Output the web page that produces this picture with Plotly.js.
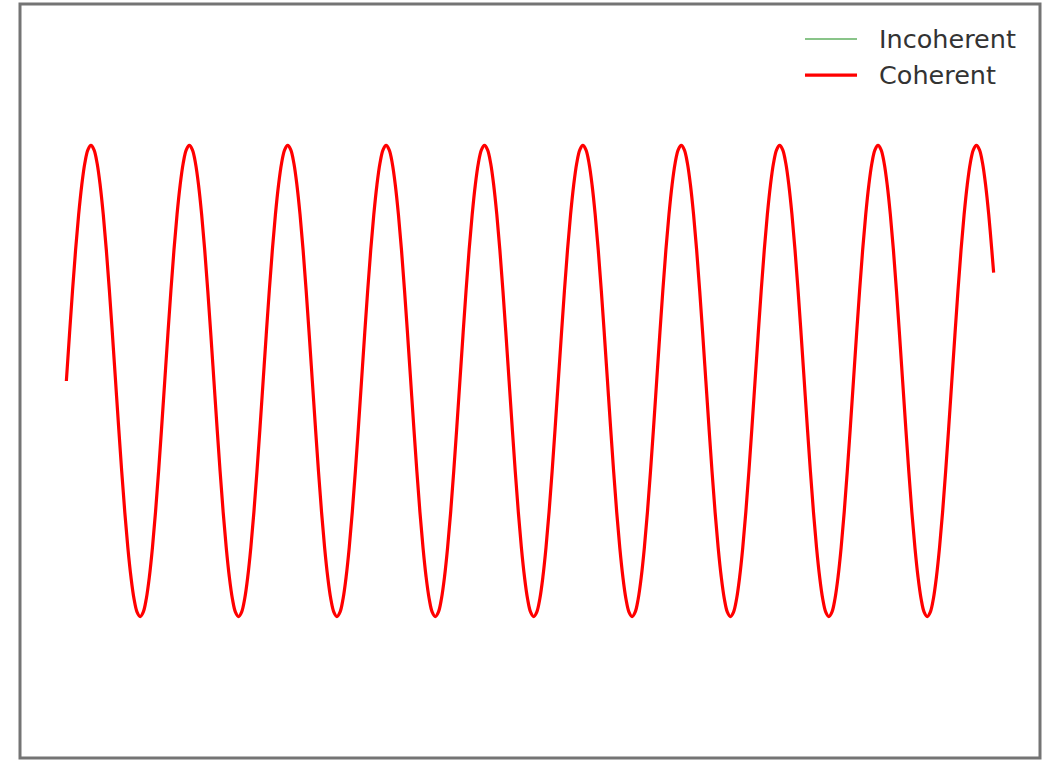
<!DOCTYPE html>
<html>
<head>
<meta charset="utf-8">
<script src="https://cdn.plot.ly/plotly-3.0.1.min.js"></script>
<style>html,body{margin:0;padding:0;background:#fff;}#chart{width:1049px;height:760px;}</style>
</head>
<body>
<div id="chart"></div>
<script>
// Samples; x in 1/32 of an oscillation period
const xCoherent = [
  0, 1, 2, 3, 4, 5, 6, 7, 8, 9, 10, 11, 12, 13, 14, 15, 16, 17, 18, 19, 20, 21, 22, 23, 24, 25, 26, 27, 28, 29, 30, 31,
  32, 33, 34, 35, 36, 37, 38, 39, 40, 41, 42, 43, 44, 45, 46, 47, 48, 49, 50, 51, 52, 53, 54, 55, 56, 57, 58, 59, 60, 61, 62, 63,
  64, 65, 66, 67, 68, 69, 70, 71, 72, 73, 74, 75, 76, 77, 78, 79, 80, 81, 82, 83, 84, 85, 86, 87, 88, 89, 90, 91, 92, 93, 94, 95,
  96, 97, 98, 99, 100, 101, 102, 103, 104, 105, 106, 107, 108, 109, 110, 111, 112, 113, 114, 115, 116, 117, 118, 119, 120, 121, 122, 123, 124, 125, 126, 127,
  128, 129, 130, 131, 132, 133, 134, 135, 136, 137, 138, 139, 140, 141, 142, 143, 144, 145, 146, 147, 148, 149, 150, 151, 152, 153, 154, 155, 156, 157, 158, 159,
  160, 161, 162, 163, 164, 165, 166, 167, 168, 169, 170, 171, 172, 173, 174, 175, 176, 177, 178, 179, 180, 181, 182, 183, 184, 185, 186, 187, 188, 189, 190, 191,
  192, 193, 194, 195, 196, 197, 198, 199, 200, 201, 202, 203, 204, 205, 206, 207, 208, 209, 210, 211, 212, 213, 214, 215, 216, 217, 218, 219, 220, 221, 222, 223,
  224, 225, 226, 227, 228, 229, 230, 231, 232, 233, 234, 235, 236, 237, 238, 239, 240, 241, 242, 243, 244, 245, 246, 247, 248, 249, 250, 251, 252, 253, 254, 255,
  256, 257, 258, 259, 260, 261, 262, 263, 264, 265, 266, 267, 268, 269, 270, 271, 272, 273, 274, 275, 276, 277, 278, 279, 280, 281, 282, 283, 284, 285, 286, 287,
  288, 289, 290, 291, 292, 293, 294, 295, 296, 297, 298, 299, 300, 301, 301.6
];
const yCoherent = [
  0, 0.195, 0.383, 0.556, 0.707, 0.831, 0.924, 0.981, 1, 0.981, 0.924, 0.831, 0.707, 0.556, 0.383, 0.195, 0, -0.195, -0.383, -0.556, -0.707, -0.831, -0.924, -0.981, -1, -0.981, -0.924, -0.831, -0.707, -0.556, -0.383, -0.195,
  0, 0.195, 0.383, 0.556, 0.707, 0.831, 0.924, 0.981, 1, 0.981, 0.924, 0.831, 0.707, 0.556, 0.383, 0.195, 0, -0.195, -0.383, -0.556, -0.707, -0.831, -0.924, -0.981, -1, -0.981, -0.924, -0.831, -0.707, -0.556, -0.383, -0.195,
  0, 0.195, 0.383, 0.556, 0.707, 0.831, 0.924, 0.981, 1, 0.981, 0.924, 0.831, 0.707, 0.556, 0.383, 0.195, 0, -0.195, -0.383, -0.556, -0.707, -0.831, -0.924, -0.981, -1, -0.981, -0.924, -0.831, -0.707, -0.556, -0.383, -0.195,
  0, 0.195, 0.383, 0.556, 0.707, 0.831, 0.924, 0.981, 1, 0.981, 0.924, 0.831, 0.707, 0.556, 0.383, 0.195, 0, -0.195, -0.383, -0.556, -0.707, -0.831, -0.924, -0.981, -1, -0.981, -0.924, -0.831, -0.707, -0.556, -0.383, -0.195,
  0, 0.195, 0.383, 0.556, 0.707, 0.831, 0.924, 0.981, 1, 0.981, 0.924, 0.831, 0.707, 0.556, 0.383, 0.195, 0, -0.195, -0.383, -0.556, -0.707, -0.831, -0.924, -0.981, -1, -0.981, -0.924, -0.831, -0.707, -0.556, -0.383, -0.195,
  0, 0.195, 0.383, 0.556, 0.707, 0.831, 0.924, 0.981, 1, 0.981, 0.924, 0.831, 0.707, 0.556, 0.383, 0.195, 0, -0.195, -0.383, -0.556, -0.707, -0.831, -0.924, -0.981, -1, -0.981, -0.924, -0.831, -0.707, -0.556, -0.383, -0.195,
  0, 0.195, 0.383, 0.556, 0.707, 0.831, 0.924, 0.981, 1, 0.981, 0.924, 0.831, 0.707, 0.556, 0.383, 0.195, 0, -0.195, -0.383, -0.556, -0.707, -0.831, -0.924, -0.981, -1, -0.981, -0.924, -0.831, -0.707, -0.556, -0.383, -0.195,
  0, 0.195, 0.383, 0.556, 0.707, 0.831, 0.924, 0.981, 1, 0.981, 0.924, 0.831, 0.707, 0.556, 0.383, 0.195, 0, -0.195, -0.383, -0.556, -0.707, -0.831, -0.924, -0.981, -1, -0.981, -0.924, -0.831, -0.707, -0.556, -0.383, -0.195,
  0, 0.195, 0.383, 0.556, 0.707, 0.831, 0.924, 0.981, 1, 0.981, 0.924, 0.831, 0.707, 0.556, 0.383, 0.195, 0, -0.195, -0.383, -0.556, -0.707, -0.831, -0.924, -0.981, -1, -0.981, -0.924, -0.831, -0.707, -0.556, -0.383, -0.195,
  0, 0.195, 0.383, 0.556, 0.707, 0.831, 0.924, 0.981, 1, 0.981, 0.924, 0.831, 0.707, 0.556, 0.46
];
const xIncoherent = [null];
const yIncoherent = [null];
const seriesNames = ["Incoherent", "Coherent"];
const seriesColors = ["rgba(0,128,0,0.62)", "#ff0000"];
const seriesWidths = [1.5, 3.2];

const xMin = -15.08, xMax = 316.68;
const yMin = -1.6, yMax = 1.6;

const traces = [
  {x: xIncoherent, y: yIncoherent, name: seriesNames[0], type: "scatter", mode: "lines",
   showlegend: false, line: {color: seriesColors[0], width: seriesWidths[0]}},
  {x: xCoherent, y: yCoherent, name: seriesNames[1], type: "scatter", mode: "lines",
   showlegend: false, line: {color: seriesColors[1], width: seriesWidths[1], shape: "spline", smoothing: 1}}
];

// legend drawn with paper-referenced keys and text
const legendKeyX0 = 0.7696, legendKeyX1 = 0.8206, legendTextX = 0.8402;
const legendRowsY = [0.9536, 0.9058];
const shapes = [{type: "rect", xref: "paper", yref: "paper", x0: 0, x1: 1, y0: 0, y1: 1,
                 line: {color: "#747474", width: 3}, layer: "above"}];
const annotations = [];
seriesNames.forEach((n, i) => {
  shapes.push({type: "line", xref: "paper", yref: "paper", x0: legendKeyX0, x1: legendKeyX1,
               y0: legendRowsY[i], y1: legendRowsY[i],
               line: {color: seriesColors[i], width: seriesWidths[i]}});
  annotations.push({xref: "paper", yref: "paper", x: legendTextX, y: legendRowsY[i],
                    xanchor: "left", yanchor: "middle", showarrow: false, text: n,
                    font: {family: "DejaVu Sans", size: 25.5, color: "#333333"}});
});

const layout = {
  width: 1049, height: 760,
  margin: {l: 20, r: 9, t: 4, b: 2, pad: 0},
  paper_bgcolor: "#ffffff", plot_bgcolor: "#ffffff",
  font: {family: "DejaVu Sans", color: "#333333"},
  showlegend: false,
  xaxis: {range: [xMin, xMax], showgrid: false, zeroline: false, showticklabels: false,
          ticks: "", showline: false},
  yaxis: {range: [yMin, yMax], showgrid: false, zeroline: false, showticklabels: false,
          ticks: "", showline: false},
  shapes: shapes,
  annotations: annotations
};

Plotly.newPlot("chart", traces, layout, {displayModeBar: false, staticPlot: true});
</script>
</body>
</html>
